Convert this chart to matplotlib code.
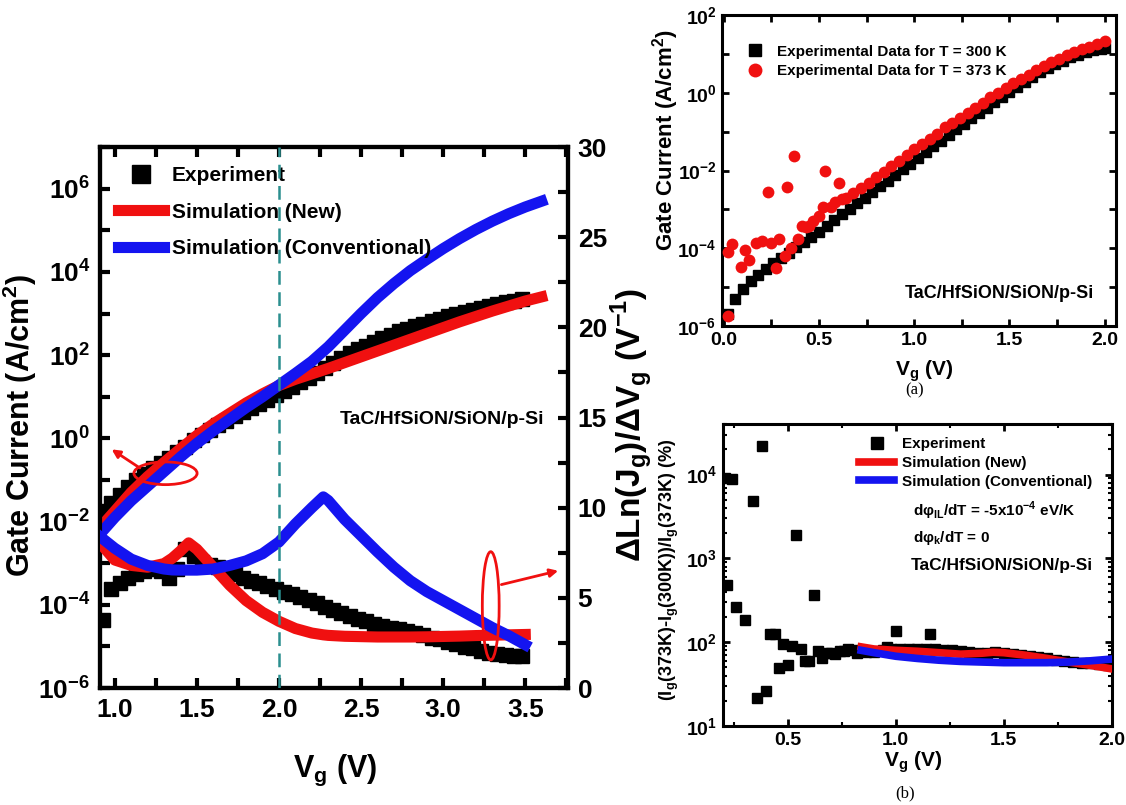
import numpy as np
import matplotlib
matplotlib.use('Agg')
import matplotlib.pyplot as plt
from matplotlib.patches import Ellipse
from matplotlib.lines import Line2D
from matplotlib.ticker import FixedLocator, FuncFormatter, MultipleLocator, LogLocator, NullFormatter

ARIAL = 'Liberation Sans'
plt.rcParams['font.family'] = ARIAL
plt.rcParams['font.weight'] = 'bold'
plt.rcParams['mathtext.fontset'] = 'custom'
plt.rcParams['mathtext.bf'] = ARIAL + ':bold'
plt.rcParams['mathtext.rm'] = ARIAL + ':bold'

RED = '#f01010'
BLUE = '#1414f0'
TEAL = '#2b8f8f'

# ---- main panel: gate current vs Vg (left, log) and dLn(Jg)/dVg (right)
vg_main = [0.93, 0.98, 1.03, 1.08, 1.13, 1.18, 1.23, 1.28, 1.33, 1.38,
           1.43, 1.48, 1.53, 1.58, 1.63, 1.68, 1.73, 1.78, 1.83, 1.88,
           1.93, 1.98, 2.03, 2.08, 2.13, 2.18, 2.23, 2.28, 2.33, 2.38,
           2.43, 2.48, 2.53, 2.58, 2.63, 2.68, 2.73, 2.78, 2.83, 2.88,
           2.93, 2.98, 3.03, 3.08, 3.13, 3.18, 3.23, 3.28, 3.33, 3.38,
           3.43, 3.48]
# log10 of measured gate current (A/cm^2)
exp_jg_log = [-1.75, -1.55, -1.35, -1.17, -1.0, -0.85, -0.72, -0.6, -0.47, -0.33,
              -0.2, -0.05, 0.08, 0.2, 0.31, 0.42, 0.53, 0.63, 0.73, 0.83,
              0.93, 1.03, 1.13, 1.24, 1.35, 1.46, 1.57, 1.68, 1.8, 1.92,
              2.04, 2.14, 2.23, 2.32, 2.41, 2.49, 2.57, 2.64, 2.7, 2.76,
              2.82, 2.88, 2.93, 2.98, 3.03, 3.08, 3.13, 3.18, 3.23, 3.27,
              3.31, 3.35]
exp_slope = [3.8, 5.5, 5.8, 6.1, 6.3, 6.5, 6.6, 6.5, 6.1, 6.6,
             7.7, 7.3, 7.0, 6.85, 6.7, 6.5, 6.3, 6.1, 5.95, 5.8,
             5.65, 5.5, 5.35, 5.2, 5.05, 4.9, 4.7, 4.5, 4.35, 4.15,
             4.0, 3.85, 3.7, 3.55, 3.45, 3.35, 3.25, 3.15, 3.05, 2.95,
             2.8, 2.7, 2.55, 2.45, 2.3, 2.2, 2.05, 1.95, 1.9, 1.85,
             1.8, 1.75]

vg_sim = [0.91, 1.0, 1.1, 1.2, 1.3, 1.4, 1.5, 1.6, 1.7, 1.8,
          1.9, 2.0, 2.1, 2.2, 2.3, 2.4, 2.5, 2.6, 2.7, 2.8,
          2.9, 3.0, 3.1, 3.2, 3.3, 3.4, 3.5, 3.6]
new_jg_log = [-2.15, -1.75, -1.3, -0.92, -0.58, -0.25, 0.07, 0.35, 0.6, 0.85,
              1.07, 1.27, 1.42, 1.55, 1.68, 1.82, 1.96, 2.1, 2.24, 2.38,
              2.52, 2.66, 2.8, 2.93, 3.06, 3.18, 3.3, 3.4]
conv_jg_log = [-2.3, -1.9, -1.5, -1.15, -0.8, -0.45, -0.12, 0.18, 0.46, 0.74,
               1.0, 1.28, 1.56, 1.85, 2.2, 2.6, 3.0, 3.38, 3.72, 4.03,
               4.3, 4.56, 4.8, 5.02, 5.22, 5.4, 5.56, 5.7]

vg_slope_sim = [0.91, 1.0, 1.1, 1.2, 1.3, 1.35, 1.4, 1.45, 1.5, 1.6,
                1.7, 1.8, 1.9, 2.0, 2.1, 2.2, 2.27, 2.3, 2.4, 2.5,
                2.6, 2.7, 2.8, 2.9, 3.0, 3.1, 3.2, 3.3, 3.4, 3.5]
new_slope = [8.05, 7.1, 6.8, 6.7, 6.9, 7.2, 7.6, 8.05, 7.7, 6.7,
             5.7, 4.85, 4.2, 3.7, 3.3, 3.05, 2.95, 2.92, 2.87, 2.85,
             2.83, 2.83, 2.83, 2.84, 2.86, 2.88, 2.91, 2.93, 2.95, 2.97]
conv_slope = [8.4, 7.75, 7.15, 6.8, 6.6, 6.55, 6.54, 6.54, 6.54, 6.6,
              6.8, 7.05, 7.45, 8.1, 9.1, 10.0, 10.6, 10.4, 9.35, 8.45,
              7.55, 6.7, 5.95, 5.35, 4.85, 4.35, 3.85, 3.35, 2.9, 2.4]

# ---- panel (a): 300 K vs 373 K
vg_300 = [0.02, 0.06, 0.10, 0.14, 0.18, 0.22, 0.26, 0.30, 0.34, 0.38,
          0.42, 0.46, 0.50, 0.54, 0.58, 0.62, 0.66, 0.70, 0.74, 0.78,
          0.82, 0.86, 0.90, 0.94, 0.98, 1.02, 1.06, 1.10, 1.14, 1.18,
          1.22, 1.26, 1.30, 1.34, 1.38, 1.42, 1.46, 1.50, 1.54, 1.58,
          1.62, 1.66, 1.70, 1.74, 1.78, 1.82, 1.86, 1.90, 1.94, 1.98, 2.0]
jg300_log = [-5.7, -5.3, -5.05, -4.85, -4.68, -4.53, -4.39, -4.25, -4.11, -3.97,
             -3.84, -3.7, -3.57, -3.42, -3.27, -3.12, -2.98, -2.84, -2.7, -2.56,
             -2.41, -2.27, -2.12, -1.97, -1.82, -1.67, -1.52, -1.38, -1.23, -1.09,
             -0.94, -0.8, -0.66, -0.52, -0.38, -0.24, -0.1, 0.03, 0.16, 0.29,
             0.41, 0.53, 0.64, 0.74, 0.83, 0.91, 0.98, 1.04, 1.09, 1.13, 1.15]

vg_373 = [0.02, 0.02, 0.045, 0.09, 0.11, 0.13, 0.17, 0.2, 0.23, 0.25,
          0.275, 0.29, 0.32, 0.33, 0.355, 0.37, 0.39, 0.41, 0.43, 0.445,
          0.47, 0.50, 0.52, 0.53, 0.56, 0.585, 0.605, 0.62,
          0.64, 0.68, 0.72, 0.76, 0.80, 0.84, 0.88, 0.92, 0.96, 1.00,
          1.04, 1.08, 1.12, 1.16, 1.20, 1.24, 1.28, 1.32, 1.36, 1.40,
          1.44, 1.48, 1.52, 1.56, 1.60, 1.64, 1.68, 1.72, 1.76, 1.80,
          1.84, 1.88, 1.92, 1.96, 2.0]
jg373_log = [-5.75, -4.1, -3.9, -4.47, -4.05, -4.29, -3.86, -3.81, -2.55, -3.86,
             -4.51, -3.77, -4.2, -2.42, -3.99, -1.63, -3.77, -3.42, -3.45, -3.42,
             -3.29, -3.16, -2.95, -2.02, -2.94, -2.81, -2.33, -2.72,
             -2.7, -2.57, -2.44, -2.31, -2.17, -2.03, -1.89, -1.75, -1.61, -1.44,
             -1.33, -1.19, -1.05, -0.88, -0.78, -0.64, -0.51, -0.38, -0.25, -0.12,
             0.0, 0.12, 0.24, 0.36, 0.47, 0.58, 0.68, 0.78, 0.87, 0.96,
             1.04, 1.12, 1.19, 1.26, 1.32]

# ---- panel (b): relative change (%)
vg_b_exp = [0.21, 0.22, 0.24, 0.26, 0.30, 0.34, 0.36, 0.38, 0.40, 0.42,
            0.44, 0.46, 0.48, 0.50, 0.52, 0.54, 0.56, 0.58, 0.60, 0.62,
            0.64, 0.66, 0.68, 0.70, 0.72, 0.74, 0.76, 0.78, 0.80, 0.82,
            0.86, 0.90, 0.94, 0.96, 0.98, 1.00, 1.02, 1.06, 1.10, 1.14,
            1.16, 1.18, 1.22, 1.26, 1.30, 1.34, 1.38, 1.42, 1.46, 1.50,
            1.54, 1.58, 1.62, 1.66, 1.70, 1.74, 1.78, 1.82, 1.86, 1.90,
            1.94, 1.98]
dj_b_exp = [9100, 480, 8900, 265, 185, 4800, 21.5, 22000, 26, 125,
            125, 49, 95, 54, 91, 1900, 82, 59, 59, 370,
            78, 65, 74, 75, 73, 78, 78, 82, 80, 75,
            76, 77, 80, 87, 82, 138, 83, 84, 84, 84,
            125, 83, 81, 80, 78, 76, 75, 75, 76, 74,
            72, 70, 68, 66, 64, 62, 60, 58, 57, 56,
            55, 54]
vg_b_sim = [0.84, 0.9, 1.0, 1.1, 1.2, 1.3, 1.4, 1.45, 1.5, 1.6, 1.7, 1.8, 1.9, 2.0]
dj_b_new = [88, 83, 80, 78, 75, 72, 74, 76, 75, 70, 64, 58, 53, 48]
dj_b_conv = [80, 75, 68, 64, 61, 59, 58, 57.5, 57, 57, 57, 58, 60, 63]


def pow10(v):
    return 10.0 ** np.asarray(v)


sci_fmt = FuncFormatter(lambda v, p: r'$\mathbf{10^{%d}}$' % int(round(np.log10(v))))
one_dec = FuncFormatter(lambda v, p: '%.1f' % v)

fig = plt.figure(figsize=(11.26, 8.05), dpi=100)

# ================= main panel =================
ax = fig.add_axes([0.0888, 0.1453, 0.4156, 0.672])
ax2 = ax.twinx()

ax.plot(vg_main, pow10(exp_jg_log), 's', color='k', ms=10, zorder=2)
ax.plot(vg_sim, pow10(new_jg_log), color=RED, lw=8, zorder=3)
ax.plot(vg_sim, pow10(conv_jg_log), color=BLUE, lw=8, zorder=4)

ax2.plot(vg_main, exp_slope, 's', color='k', ms=10, zorder=2)
ax2.plot(vg_slope_sim, new_slope, color=RED, lw=8, zorder=3)
ax2.plot(vg_slope_sim, conv_slope, color=BLUE, lw=8, zorder=4)
ax2.axvline(2.0, color=TEAL, lw=1.8, ls=(0, (5.5, 3)), zorder=10)

ax.set_xlim(0.91, 3.76)
ax.set_yscale('log')
ax.set_ylim(1e-6, 1e7)
ax.yaxis.set_major_locator(FixedLocator([1e-6, 1e-4, 1e-2, 1e0, 1e2, 1e4, 1e6]))
ax.yaxis.set_minor_locator(FixedLocator([1e-5, 1e-3, 1e-1, 1e1, 1e3, 1e5, 1e7]))
ax.yaxis.set_major_formatter(sci_fmt)
ax.yaxis.set_minor_formatter(NullFormatter())
ax.xaxis.set_major_locator(MultipleLocator(0.5))
ax.xaxis.set_minor_locator(MultipleLocator(0.25))
ax.xaxis.set_major_formatter(one_dec)
ax2.set_ylim(0, 30)
ax2.yaxis.set_major_locator(MultipleLocator(5))
ax2.yaxis.set_minor_locator(MultipleLocator(2.5))

for a in (ax, ax2):
    for s in a.spines.values():
        s.set_linewidth(3)
ax.tick_params(which='both', direction='in', top=True, right=False, width=3, length=7,
               labelsize=19, pad=7)
ax2.tick_params(which='both', direction='in', width=3, length=7, labelsize=19, pad=7)

handles = [Line2D([], [], ls='none', marker='s', color='k', ms=13),
           Line2D([], [], color=RED, lw=8),
           Line2D([], [], color=BLUE, lw=8)]
ax2.legend(handles, ['Experiment', 'Simulation (New)', 'Simulation (Conventional)'],
           loc='upper left', bbox_to_anchor=(0.038, 0.965), frameon=False,
           prop={'weight': 'bold', 'size': 15},
           handlelength=2.2, handletextpad=0.4, labelspacing=0.85,
           borderpad=0, borderaxespad=0)

ax2.text(0.513, 0.497, 'TaC/HfSiON/SiON/p-Si', transform=ax2.transAxes,
         fontsize=14, va='center', ha='left')

ax2.add_patch(Ellipse((0.14, 0.397), 0.135, 0.042, transform=ax2.transAxes,
                      fill=False, ec=RED, lw=2, zorder=11))
ax2.annotate('', xy=(0.02, 0.444), xytext=(0.09, 0.404), xycoords='axes fraction',
             arrowprops=dict(arrowstyle='-|>', color=RED, lw=2, mutation_scale=12), zorder=11)
ax2.add_patch(Ellipse((0.835, 0.152), 0.036, 0.2, transform=ax2.transAxes,
                      fill=False, ec=RED, lw=2, zorder=11))
ax2.annotate('', xy=(0.985, 0.218), xytext=(0.852, 0.19), xycoords='axes fraction',
             arrowprops=dict(arrowstyle='-|>', color=RED, lw=2, mutation_scale=12), zorder=11)

fig.text(20 / 1126, 1 - 425 / 805, r'Gate Current (A/cm$^{\mathbf{2}}$)', rotation=90,
         ha='center', va='center', fontsize=22)
fig.text(631 / 1126, 1 - 425 / 805,
         r'ΔLn(J$_{\mathbf{g}}$)/ΔV$_{\mathbf{g}}$ (V$^{\mathbf{-1}}$)', rotation=90,
         ha='center', va='center', fontsize=24)
fig.text(0.2975, 0.043, r'V$_{\mathbf{g}}$ (V)', ha='center', va='center', fontsize=22)

# ================= panel (a) =================
axa = fig.add_axes([0.6412, 0.595, 0.35, 0.3863])
axa.plot(vg_300, pow10(jg300_log), 's', color='k', ms=6.5, zorder=2)
axa.plot(vg_373, pow10(jg373_log), 'o', color=RED, mec='none', ms=8.5, zorder=3)
axa.set_xlim(-0.01, 2.06)
axa.set_yscale('log')
axa.set_ylim(1e-6, 1e2)
axa.yaxis.set_major_locator(FixedLocator([1e-6, 1e-4, 1e-2, 1e0, 1e2]))
axa.yaxis.set_minor_locator(FixedLocator([1e-5, 1e-3, 1e-1, 1e1]))
axa.yaxis.set_major_formatter(sci_fmt)
axa.yaxis.set_minor_formatter(NullFormatter())
axa.xaxis.set_major_locator(MultipleLocator(0.5))
axa.xaxis.set_minor_locator(MultipleLocator(0.25))
axa.xaxis.set_major_formatter(one_dec)
for s in axa.spines.values():
    s.set_linewidth(2.2)
axa.tick_params(which='both', direction='in', top=True, right=True, width=2, length=5,
                labelsize=14, pad=4)
handles_a = [Line2D([], [], ls='none', marker='s', color='k', ms=8),
             Line2D([], [], ls='none', marker='o', color=RED, mec='none', ms=10)]
axa.legend(handles_a, ['Experimental Data for T = 300 K', 'Experimental Data for T = 373 K'],
           loc='upper left', bbox_to_anchor=(0.069, 0.905), frameon=False,
           prop={'weight': 'bold', 'size': 11}, handlelength=0.8, handletextpad=1.0,
           labelspacing=0.35, borderpad=0, borderaxespad=0)
axa.text(0.464, 0.104, 'TaC/HfSiON/SiON/p-Si', transform=axa.transAxes,
         fontsize=13, va='center', ha='left')
fig.text(666 / 1126, 1 - 140 / 805, r'Gate Current (A/cm$^{\mathbf{2}}$)', rotation=90,
         ha='center', va='center', fontsize=16)
fig.text(924 / 1126, 1 - 371 / 805, r'V$_{\mathbf{g}}$ (V)', ha='center', va='center', fontsize=15)
fig.text(915 / 1126, 1 - 390 / 805, '(a)', ha='center', va='center', fontsize=12,
         family='Liberation Serif', weight='normal')

# ================= panel (b) =================
axb = fig.add_axes([0.642, 0.0981, 0.3455, 0.375])
axb.plot(vg_b_exp, dj_b_exp, 's', color='k', ms=6.5, zorder=2)
axb.plot(vg_b_sim, dj_b_new, color=RED, lw=5.5, zorder=3)
axb.plot(vg_b_sim, dj_b_conv, color=BLUE, lw=5.5, zorder=4)
axb.set_xlim(0.2, 2.0)
axb.set_yscale('log')
axb.set_ylim(10, 4e4)
axb.yaxis.set_major_locator(FixedLocator([1e1, 1e2, 1e3, 1e4]))
axb.yaxis.set_minor_locator(LogLocator(subs=np.arange(2, 10)))
axb.yaxis.set_major_formatter(sci_fmt)
axb.yaxis.set_minor_formatter(NullFormatter())
axb.xaxis.set_major_locator(MultipleLocator(0.5))
axb.xaxis.set_minor_locator(MultipleLocator(0.25))
axb.xaxis.set_major_formatter(one_dec)
for s in axb.spines.values():
    s.set_linewidth(2.2)
axb.tick_params(which='major', direction='in', top=True, right=True, width=2, length=5,
                labelsize=14, pad=4)
axb.tick_params(which='minor', direction='in', top=True, right=True, width=1.5, length=3)
handles_b = [Line2D([], [], ls='none', marker='s', color='k', ms=8),
             Line2D([], [], color=RED, lw=5.5),
             Line2D([], [], color=BLUE, lw=5.5)]
axb.legend(handles_b, ['Experiment', 'Simulation (New)', 'Simulation (Conventional)'],
           loc='upper left', bbox_to_anchor=(0.35, 0.957), frameon=False,
           prop={'weight': 'bold', 'size': 11}, handlelength=2.3, handletextpad=0.5,
           labelspacing=0.31, borderpad=0, borderaxespad=0)
axb.text(0.488, 0.712, r'dφ$_{\mathbf{IL}}$/dT = -5x10$^{\mathbf{-4}}$ eV/K',
         transform=axb.transAxes, fontsize=11, va='center', ha='left')
axb.text(0.488, 0.622, r'dφ$_{\mathbf{k}}$/dT = 0',
         transform=axb.transAxes, fontsize=11, va='center', ha='left')
axb.text(0.482, 0.533, 'TaC/HfSiON/SiON/p-Si',
         transform=axb.transAxes, fontsize=12.5, va='center', ha='left')
fig.text(669 / 1126, 1 - 570 / 805,
         r'(I$_{\mathbf{g}}$(373K)-I$_{\mathbf{g}}$(300K))/I$_{\mathbf{g}}$(373K) (%)',
         rotation=90, ha='center', va='center', fontsize=13)
fig.text(913 / 1126, 1 - 762 / 805, r'V$_{\mathbf{g}}$ (V)', ha='center', va='center', fontsize=15)
fig.text(905 / 1126, 1 - 793 / 805, '(b)', ha='center', va='center', fontsize=12,
         family='Liberation Serif', weight='normal')

fig.savefig('out.png', dpi=100)
